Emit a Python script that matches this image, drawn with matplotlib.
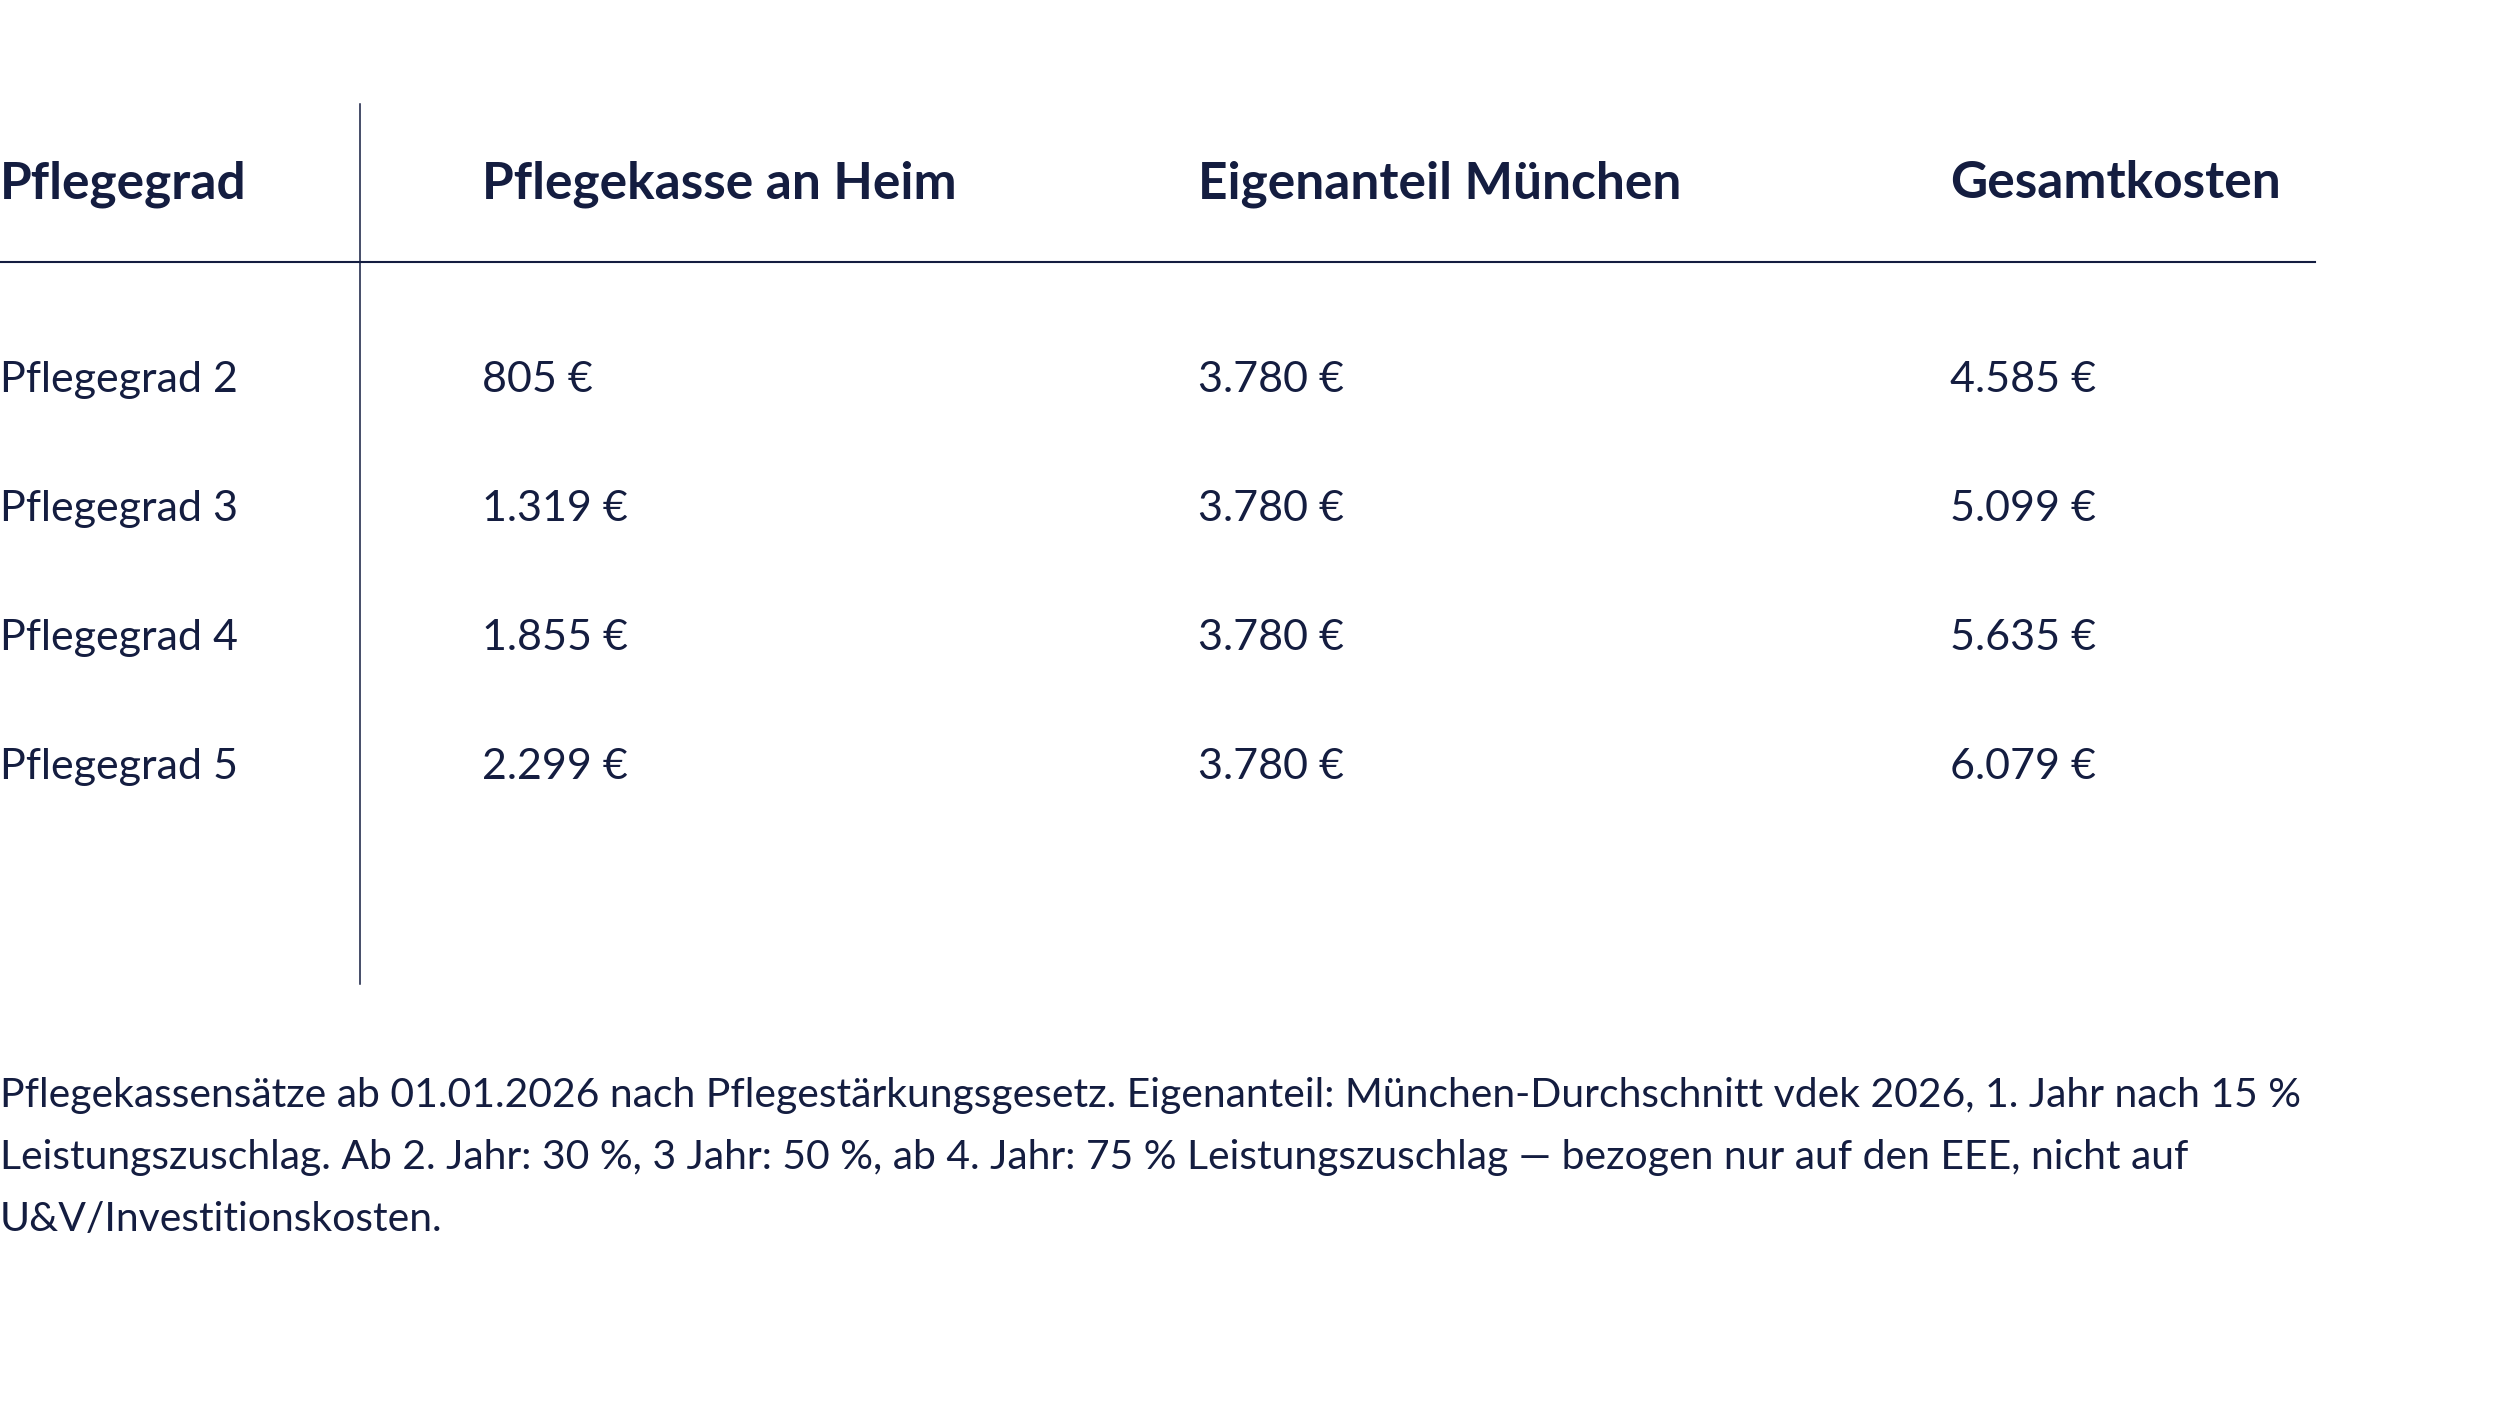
import matplotlib
matplotlib.use("Agg")
import matplotlib.pyplot as plt

# table content
headers = ["Pflegegrad", "Pflegekasse an Heim", "Eigenanteil München", "Gesamtkosten"]
grades = ["Pflegegrad 2", "Pflegegrad 3", "Pflegegrad 4", "Pflegegrad 5"]
kasse = ["805 €", "1.319 €", "1.855 €", "2.299 €"]
eigenanteil = ["3.780 €", "3.780 €", "3.780 €", "3.780 €"]
gesamt = ["4.585 €", "5.099 €", "5.635 €", "6.079 €"]
footnote_lines = [
    "Pflegekassensätze ab 01.01.2026 nach Pflegestärkungsgesetz. Eigenanteil: München-Durchschnitt vdek 2026, 1. Jahr nach 15 %",
    "Leistungszuschlag. Ab 2. Jahr: 30 %, 3 Jahr: 50 %, ab 4. Jahr: 75 % Leistungszuschlag — bezogen nur auf den EEE, nicht auf",
    "U&V/Investitionskosten.",
]

navy = "#141d40"
font = ["Lato", "DejaVu Sans"]

# layout (pixels on a 2500 x 1406 canvas)
col_x = [0, 482, 1198, 1950]
header_y = 198
row_y0, row_step = 392, 129
note_y0, note_step = 1107, 62
sep_x, sep_top, sep_bottom = 360, 104, 984
rule_y, rule_right = 262, 2315

fig = plt.figure(figsize=(25, 14.06), dpi=100)
ax = fig.add_axes([0, 0, 1, 1])
ax.set_xlim(0, 2500)
ax.set_ylim(1406, 0)
ax.axis("off")

for x, h in zip(col_x, headers):
    ax.text(x, header_y, h, fontsize=37, fontweight="bold", color=navy,
            family=font, ha="left", va="baseline")

for i, row in enumerate(zip(grades, kasse, eigenanteil, gesamt)):
    y = row_y0 + i * row_step
    for x, val in zip(col_x, row):
        ax.text(x, y, val, fontsize=31, fontweight="normal", color=navy,
                family=font, ha="left", va="baseline")

ax.plot([sep_x, sep_x], [sep_top, sep_bottom], color=navy, lw=1.1)
ax.plot([0, rule_right], [rule_y, rule_y], color=navy, lw=1.5)

for i, line in enumerate(footnote_lines):
    ax.text(0, note_y0 + i * note_step, line, fontsize=29.4, fontweight="normal",
            color=navy, family=font, ha="left", va="baseline")

fig.savefig("out.png", dpi=100, facecolor="white")
